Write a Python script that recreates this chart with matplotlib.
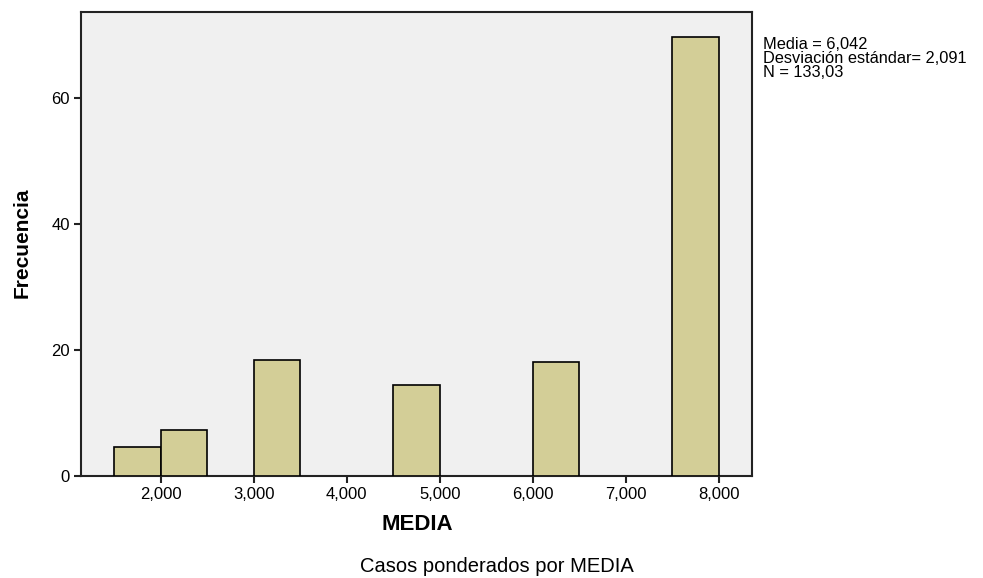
import matplotlib
matplotlib.use("Agg")
import matplotlib.pyplot as plt
from matplotlib import font_manager

# Histogram bins (left edges), bin width and weighted frequencies
bin_left = [1.5, 2.0, 3.0, 4.5, 6.0, 7.5]
bin_width = 0.5
frequency = [4.61, 7.36, 18.38, 14.41, 18.06, 69.69]

x_ticks = [2, 3, 4, 5, 6, 7, 8]
x_tick_labels = ["2,000", "3,000", "4,000", "5,000", "6,000", "7,000", "8,000"]
y_ticks = [0, 20, 40, 60]
y_tick_labels = ["0", "20", "40", "60"]

stats_lines = ["Media = 6,042", "Desviación estándar= 2,091", "N = 133,03"]

installed = {f.name for f in font_manager.fontManager.ttflist}
base_font = ["Liberation Sans", "DejaVu Sans"]
narrow_font = (["Liberation Sans Narrow"] if "Liberation Sans Narrow" in installed else []) + base_font
plt.rcParams["font.family"] = base_font

fig = plt.figure(figsize=(9.83, 5.78), dpi=100)
ax = fig.add_axes([81 / 983, 102 / 578, 671 / 983, 463.7 / 578])
ax.set_facecolor("#f0f0f0")

ax.bar(bin_left, frequency, width=bin_width, align="edge",
       color="#d3ce97", edgecolor="black", linewidth=1.2, zorder=3)

ax.set_xlim(1.14, 8.358)
ax.set_ylim(0, 73.66)
ax.set_xticks(x_ticks)
ax.set_xticklabels(x_tick_labels, fontsize=12)
ax.set_yticks(y_ticks)
ax.set_yticklabels(y_tick_labels, fontsize=12)
ax.tick_params(direction="out", length=5, width=1.5, color="#222222", pad=3)

for side in ["left", "bottom", "right", "top"]:
    ax.spines[side].set_linewidth(1.5)
    ax.spines[side].set_color("#222222")

fig.text(417 / 983, 1 - 524 / 578, "MEDIA", fontsize=16, fontweight="bold",
         ha="center", va="center")
fig.text(22 / 983, 1 - 243 / 578, "Frecuencia", fontsize=15, fontweight="bold",
         rotation=90, ha="center", va="center", family=narrow_font)
fig.text(497 / 983, 1 - 566 / 578, "Casos ponderados por MEDIA", fontsize=14.5,
         ha="center", va="center")
fig.text(763 / 983, 1 - 37 / 578, "\n".join(stats_lines), fontsize=11.8,
         ha="left", va="top", linespacing=0.93)

fig.savefig("out.png", dpi=100, facecolor="white")
